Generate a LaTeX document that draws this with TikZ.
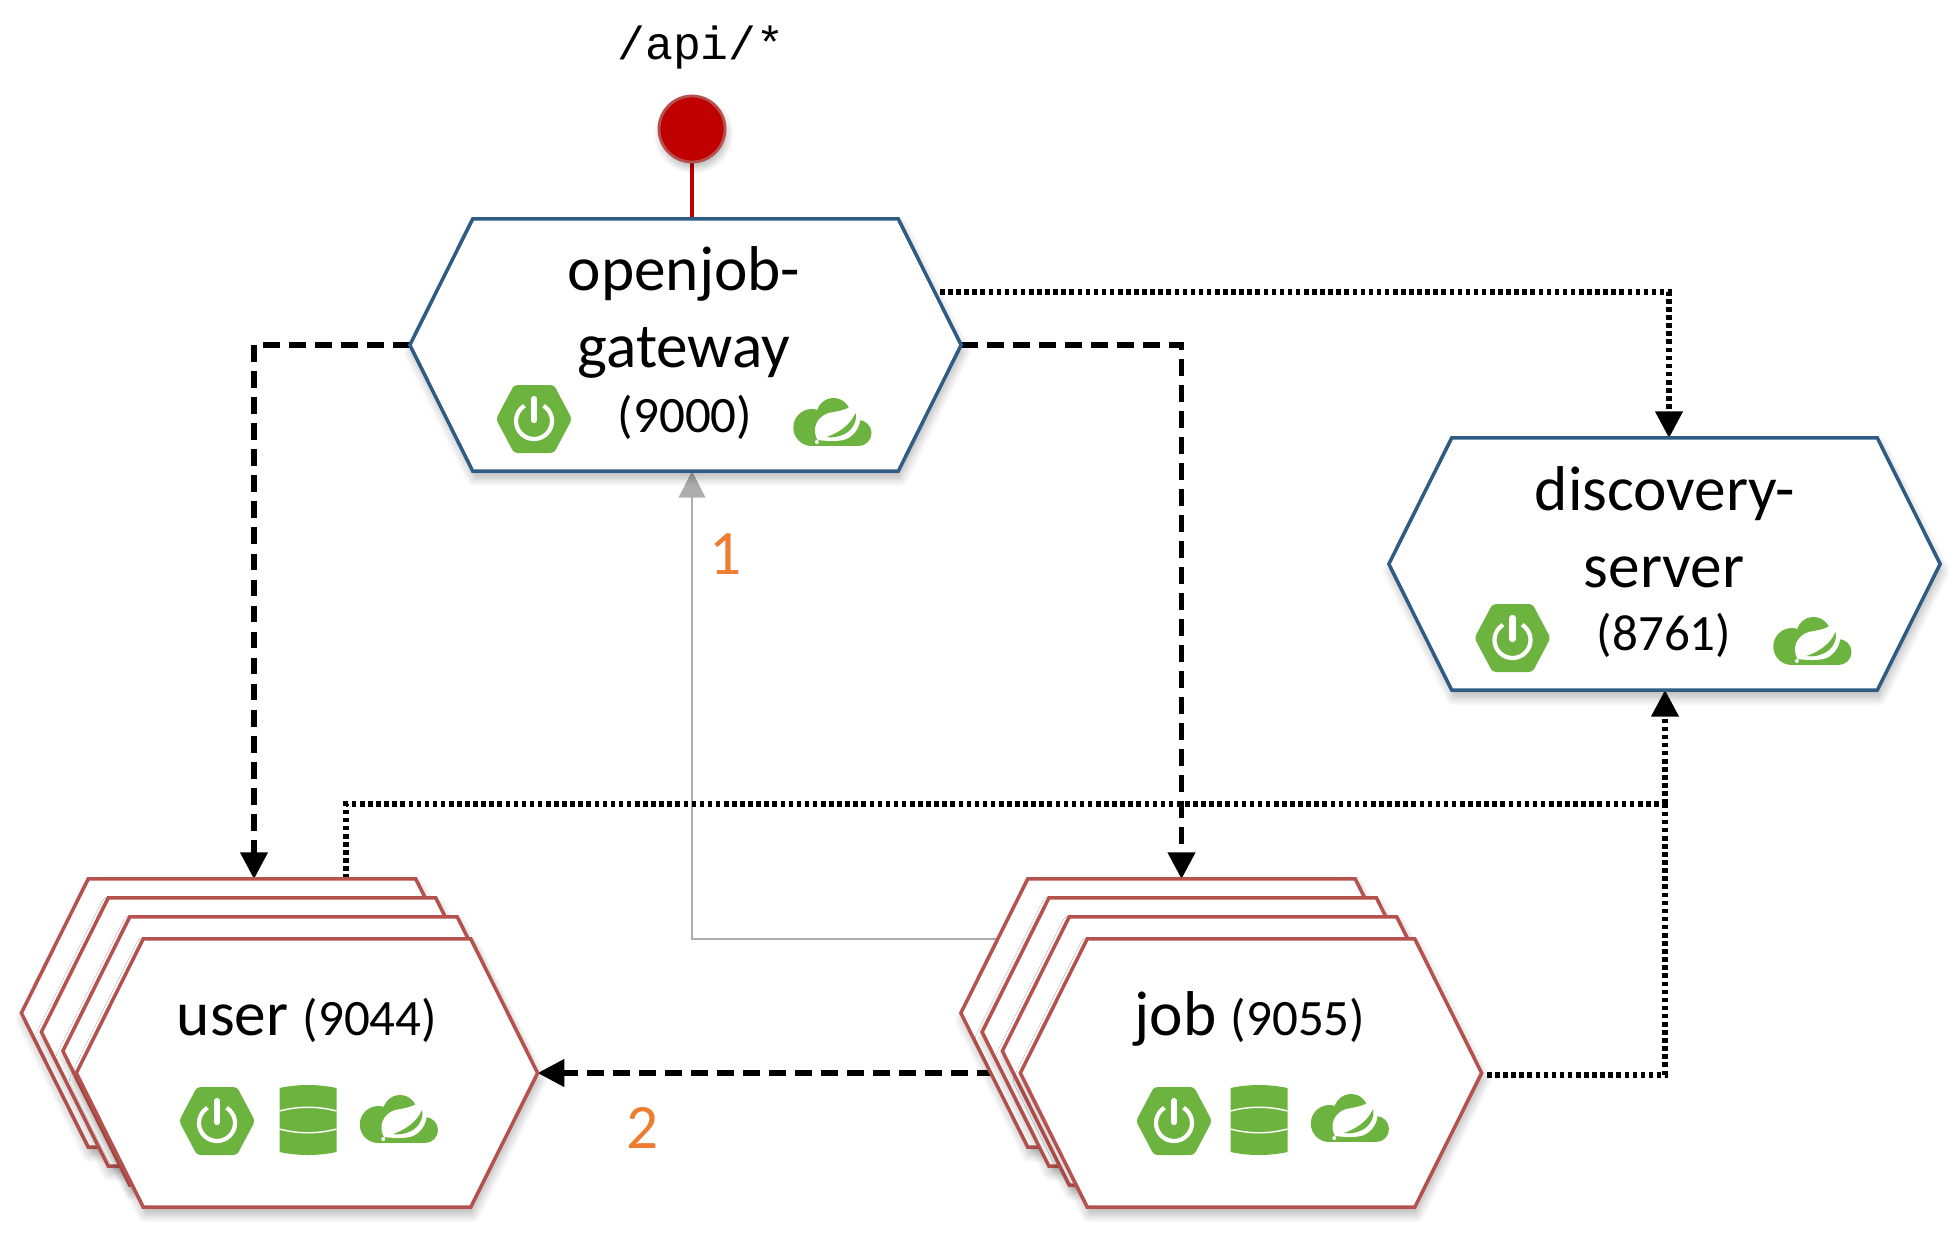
\documentclass[tikz,border=0pt]{standalone}
\usepackage{fontspec}
\setmainfont{Carlito}
\setmonofont{Liberation Mono}
\usetikzlibrary{arrows.meta,backgrounds,shadows.blur,shapes.symbols}

\definecolor{bluehex}{HTML}{2F5C85}
\definecolor{redhex}{HTML}{B5524E}
\definecolor{springgreen}{HTML}{6DB33F}
\definecolor{pinred}{HTML}{C00000}
\definecolor{numorange}{HTML}{ED7D31}

\tikzset{
  hexbase/.style={shape=signal, signal to=east and west, signal pointer angle=127,
    inner sep=0pt, outer sep=0pt, fill=white, line width=1pt,
    blur shadow={shadow xshift=.5pt, shadow yshift=-2pt, shadow blur radius=2.5pt, shadow blur steps=8, shadow opacity=30}},
  service/.style={hexbase, draw=bluehex, minimum width=5.51cm, minimum height=2.52cm},
  replica/.style={hexbase, draw=redhex, minimum width=4.61cm, minimum height=2.68cm},
  bigtxt/.style={anchor=base, inner sep=0pt, font=\fontsize{18}{20}\selectfont},
  smalltxt/.style={anchor=base, inner sep=0pt, font=\fontsize{14.5}{17}\selectfont},
  numtxt/.style={anchor=base, inner sep=0pt, text=numorange, font=\fontsize{18}{20}\selectfont},
  dashline/.style={line width=1.5pt, dash pattern=on 4.8pt off 2.6pt, -{Triangle[length=7.6pt,width=7.6pt]}},
  dotline/.style={line width=1.5pt, dash pattern=on 1.3pt off 1pt},
  dotarrow/.style={dotline, -{Triangle[length=7.6pt,width=7.6pt,sep=0pt]}},
  greyline/.style={draw=black!32, line width=.5pt, -{Triangle[length=7.6pt,width=7.6pt]}},
  pics/bootlogo/.style={code={
    \fill[springgreen, rounded corners=1pt] (-38,0) -- (-20,-34) -- (20,-34) -- (38,0) -- (20,34) -- (-20,34) -- cycle;
    \draw[white, line width=1.2pt] (0,2) ++(-58:18) arc[start angle=-58, end angle=238, radius=18];
    \draw[white, line width=1.8pt, line cap=round] (0,-20) -- (0,1);
  }},
  pics/dblogo/.style={code={
    \fill[springgreen] (-28.5,-32) .. controls (-10,-36) and (10,-36) .. (28.5,-32) -- (28.5,32) .. controls (10,36) and (-10,36) .. (-28.5,32) -- cycle;
    \draw[white, line width=.4pt] (-28.5,-9) .. controls (-10,-14) and (10,-14) .. (28.5,-9);
    \draw[white, line width=.4pt] (-28.5,9) .. controls (-10,14) and (10,14) .. (28.5,9);
  }},
  pics/cloudlogo/.style={code={
    \fill[springgreen] (-20.7,5.5) circle[radius=18.5];
    \fill[springgreen] (1,-7) circle[radius=17];
    \fill[springgreen] (26,11) circle[radius=13];
    \fill[springgreen] (-20.7,5.5) rectangle (26,24);
    \fill[white] (-15,18) .. controls (-21,7) and (-16,-5) .. (-4,-9) .. controls (6,-11) and (18,-12) .. (23,-21) .. controls (32,-6) and (28,10) .. (14,17) .. controls (6,20) and (-6,19) .. (-15,18) -- cycle;
    \fill[springgreen] (-6,15) .. controls (6,11) and (18,3) .. (23,-9) .. controls (25,-1) and (20,8) .. (12,12) .. controls (6,15) and (0,16) .. (-6,15) -- cycle;
    \fill[white] (-15.7,20) circle[radius=2];
  }}
}

\begin{document}
\begin{tikzpicture}[x=0.01cm,y=-0.01cm]
  \useasboundingbox (0,0) rectangle (1957,1232);

  %top nodes
  \node[service] (gateway) at (685.5,345) {};
  \node[service] (discovery) at (1664.5,564) {};

  %user stack
  \node[replica] (user1) at (252,1013) {};
  \node[replica] (user2) at (272,1032) {};
  \node[replica] (user3) at (293.5,1051) {};
  \node[replica] (user4) at (307,1073) {};

  %job stack
  \node[replica] (job1) at (1191.5,1013) {};
  \node[replica] (job2) at (1212.7,1032) {};
  \node[replica] (job3) at (1233,1051) {};
  \node[replica] (job4) at (1251,1073) {};

  %entry point
  \node[circle, fill=pinred, draw=redhex, line width=.8pt, minimum size=.66cm, inner sep=0pt,
    blur shadow={shadow xshift=.5pt, shadow yshift=-1.5pt, shadow blur radius=2pt, shadow blur steps=8, shadow opacity=30}] (pin) at (692,129) {};
  \node[anchor=base, inner sep=0pt, font=\ttfamily\fontsize{13.2}{15}\selectfont] (apilabel) at (701,59) {/api/*};

  %texts
  \node[bigtxt] (gwname1) at (684,290) {openjob-};
  \node[bigtxt] (gwname2) at (684,367) {gateway};
  \node[smalltxt] (gwport) at (685,432) {(9000)};
  \node[bigtxt] (discname1) at (1665,510) {discovery-};
  \node[bigtxt] (discname2) at (1664,587) {server};
  \node[smalltxt] (discport) at (1664,650) {(8761)};
  \node[bigtxt] (username) at (307,1035) {user {\fontsize{14.5}{17}\selectfont (9044)}};
  \node[bigtxt] (jobname) at (1250,1035) {job {\fontsize{14.5}{17}\selectfont (9055)}};
  \node[numtxt] (num1) at (726,574) {1};
  \node[numtxt] (num2) at (643,1148) {2};

  %logos
  \pic at (534,419) {bootlogo};
  \pic at (832.5,422) {cloudlogo};
  \pic at (1512.5,638) {bootlogo};
  \pic at (1812.5,641) {cloudlogo};
  \pic at (217,1121) {bootlogo};
  \pic at (308,1120) {dblogo};
  \pic at (399,1119) {cloudlogo};
  \pic at (1174,1121) {bootlogo};
  \pic at (1259,1120) {dblogo};
  \pic at (1350,1118) {cloudlogo};

  %free ends
  \coordinate (userin) at (254,879);
  \coordinate (jobin) at (1181.5,879);
  \coordinate (gwin) at (692,471);
  \coordinate (gwtop) at (692,219);
  \coordinate (gwout) at (940,292);
  \coordinate (discin) at (1669,438);
  \coordinate (userout) at (346,879);
  \coordinate (busturn) at (1665,804);
  \coordinate (discunder) at (1665,690);
  \coordinate (jobout) at (1487,1075);

  %connectors
  \begin{scope}[on background layer]
    \draw[pinred, line width=1.3pt] (pin) -- (gwtop);
    \draw[greyline] (job4.north) -| (gwin);
    \draw[dashline] (gateway.west) -| (userin);
    \draw[dashline] (gateway.east) -| (jobin);
    \draw[dashline] (job4.west) -- (user4.east);
    \draw[dotarrow] (gwout) -| (discin);
    \draw[dotline] (userout) |- (busturn);
    \draw[dotline] (jobout) -| (busturn);
    \draw[dotarrow] (busturn) -- (discunder);
  \end{scope}
\end{tikzpicture}
\end{document}
